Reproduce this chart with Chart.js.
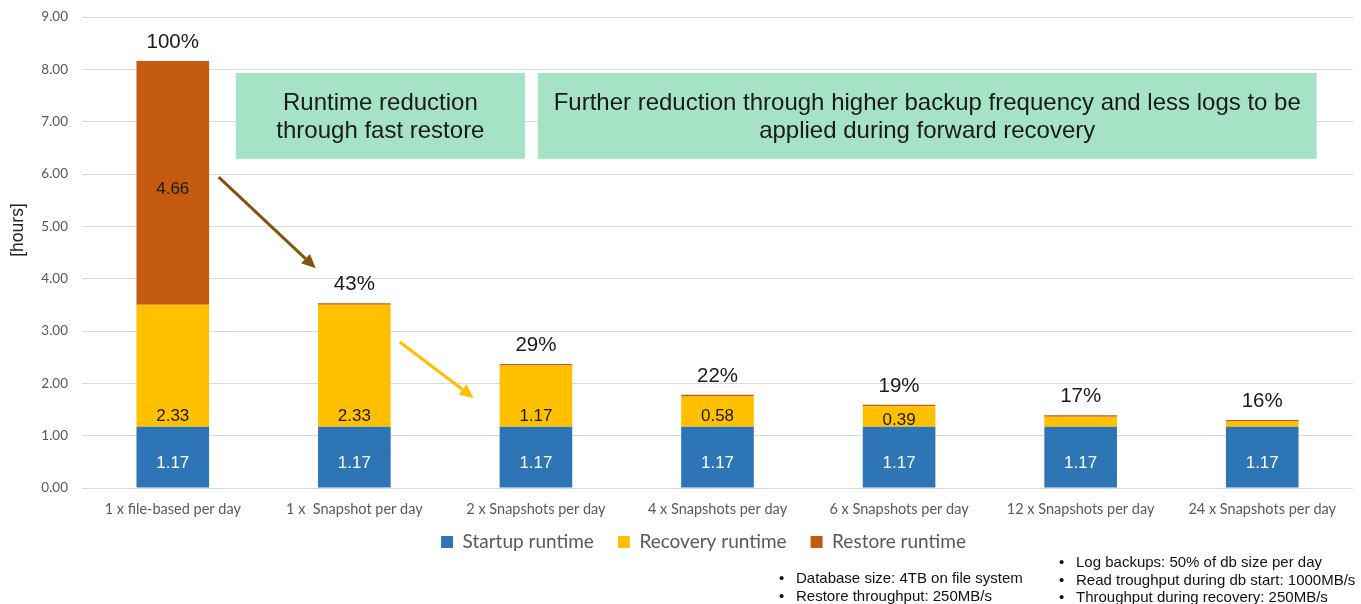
<!DOCTYPE html>
<html>
<head>
<meta charset="utf-8">
<script src="https://cdn.jsdelivr.net/npm/chart.js@4/dist/chart.umd.min.js"></script>
<style>
  html, body { margin: 0; padding: 0; background: #fff; }
  #wrap { position: relative; width: 1361px; height: 604px; overflow: hidden; }
  #c { position: absolute; left: 0; top: 0; }
  .notes { position: absolute; margin: 0; padding: 0; list-style: none;
           font: 15px "Liberation Sans", Arial, sans-serif; color: #111; }
  .notes li { position: relative; padding-left: 17px; white-space: nowrap; }
  .notes li::before { content: "\2022"; position: absolute; left: 0; }
</style>
</head>
<body>
<div id="wrap">
  <canvas id="c" width="1361" height="604"></canvas>
  <ul class="notes" style="left:779px; top:569px; line-height:18.4px;">
    <li>Database size: 4TB on file system</li>
    <li>Restore throughput: 250MB/s</li>
  </ul>
  <ul class="notes" style="left:1059px; top:553px; line-height:17.5px;">
    <li>Log backups: 50% of db size per day</li>
    <li>Read troughput during db start: 1000MB/s</li>
    <li>Throughput during recovery: 250MB/s</li>
  </ul>
</div>
<script>
// Backup strategies compared
const categories = [
  "1 x file-based per day",
  "1 x  Snapshot per day",
  "2 x Snapshots per day",
  "4 x Snapshots per day",
  "6 x Snapshots per day",
  "12 x Snapshots per day",
  "24 x Snapshots per day"
];

// Runtime components in hours
const startupRuntime  = [1.17, 1.17, 1.17, 1.17, 1.17, 1.17, 1.17];
const recoveryRuntime = [2.33, 2.33, 1.17, 0.58, 0.39, 0.19, 0.10];
const restoreRuntime  = [4.66, 0.03, 0.03, 0.03, 0.03, 0.03, 0.03];

// Total runtime relative to the file-based backup
const percentLabels = ["100%", "43%", "29%", "22%", "19%", "17%", "16%"];

// Y axis ticks
const yTicks = [0, 1, 2, 3, 4, 5, 6, 7, 8, 9];

// Callout boxes and arrows, placed in axis units (category index, hours)
const calloutBoxes = [
  { x0: 0.347, x1: 1.94, y0: 7.93, y1: 6.29,
    lines: ["Runtime reduction", "through fast restore"] },
  { x0: 2.01, x1: 6.30, y0: 7.93, y1: 6.29,
    lines: ["Further reduction through higher backup frequency and less logs to be",
            "applied during forward recovery"] }
];
const calloutArrows = [
  { x0: 0.253, y0: 5.94, x1: 0.787, y1: 4.20, color: "#84540f" },
  { x0: 1.25,  y0: 2.79, x1: 1.657, y1: 1.72, color: "#ffc000" }
];

const BLUE = "#2e75b6", YELLOW = "#ffc000", ORANGE = "#c55a11";
const LABEL_FONT = '17px "Liberation Sans", Arial, sans-serif';

const calloutPlugin = {
  id: "callouts",
  beforeDatasetsDraw(chart) {
    const { ctx, scales: { x, y } } = chart;
    ctx.save();
    for (const b of calloutBoxes) {
      const left = x.getPixelForValue(b.x0), right = x.getPixelForValue(b.x1);
      const top = y.getPixelForValue(b.y0), bottom = y.getPixelForValue(b.y1);
      ctx.fillStyle = "#a6e3c6";
      ctx.fillRect(left, top, right - left, bottom - top);
      ctx.fillStyle = "#1a1a1a";
      ctx.font = '24px "Liberation Sans", Arial, sans-serif';
      ctx.textAlign = "center";
      ctx.textBaseline = "middle";
      const cx = (left + right) / 2, cy = (top + bottom) / 2 + 1;
      const lh = 28;
      b.lines.forEach((t, i) => {
        ctx.fillText(t, cx, cy + (i - (b.lines.length - 1) / 2) * lh);
      });
    }
    for (const a of calloutArrows) {
      const sx = x.getPixelForValue(a.x0), sy = y.getPixelForValue(a.y0);
      const ex = x.getPixelForValue(a.x1), ey = y.getPixelForValue(a.y1);
      const ang = Math.atan2(ey - sy, ex - sx);
      const head = 14, half = 6.5;
      const bx = ex - head * Math.cos(ang), by = ey - head * Math.sin(ang);
      ctx.strokeStyle = a.color;
      ctx.fillStyle = a.color;
      ctx.lineWidth = 3;
      ctx.beginPath();
      ctx.moveTo(sx, sy);
      ctx.lineTo(bx, by);
      ctx.stroke();
      ctx.beginPath();
      ctx.moveTo(ex, ey);
      ctx.lineTo(bx + half * Math.sin(ang), by - half * Math.cos(ang));
      ctx.lineTo(bx - half * Math.sin(ang), by + half * Math.cos(ang));
      ctx.closePath();
      ctx.fill();
    }
    ctx.restore();
  }
};

const labelPlugin = {
  id: "barLabels",
  afterDatasetsDraw(chart) {
    const { ctx } = chart;
    ctx.save();
    ctx.textAlign = "center";
    ctx.textBaseline = "middle";
    ctx.font = LABEL_FONT;
    chart.data.datasets.forEach((ds, di) => {
      const meta = chart.getDatasetMeta(di);
      meta.data.forEach((bar, i) => {
        const v = ds.data[i];
        if (v < 0.3) return;
        const h = bar.base - bar.y;
        let ly;
        if (di === 0) ly = (bar.y + bar.base) / 2 + 6;
        else if (di === 1) ly = h < 30 ? (bar.y + bar.base) / 2 + 4 : bar.base - 10;
        else ly = (bar.y + bar.base) / 2 + 6;
        ctx.fillStyle = di === 0 ? "#ffffff" : "#1a1a1a";
        ctx.fillText(v.toFixed(2), bar.x, ly);
      });
    });
    // percentage above each stack
    const topMeta = chart.getDatasetMeta(chart.data.datasets.length - 1);
    ctx.font = '20.5px "Liberation Sans", Arial, sans-serif';
    ctx.fillStyle = "#1a1a1a";
    topMeta.data.forEach((bar, i) => {
      ctx.fillText(percentLabels[i], bar.x, bar.y - 18.5);
    });
    ctx.restore();
  }
};

// Y axis title, drawn beside the tick labels
const axisTitlePlugin = {
  id: "axisTitle",
  afterDraw(chart) {
    const { ctx, chartArea } = chart;
    ctx.save();
    ctx.translate(18, chartArea.top + 213);
    ctx.rotate(-Math.PI / 2);
    ctx.textAlign = "center";
    ctx.textBaseline = "middle";
    ctx.fillStyle = "#222";
    ctx.font = '17.5px "Liberation Sans", Arial, sans-serif';
    ctx.fillText("[hours]", 0, 0);
    ctx.restore();
  }
};

// Legend sits a little right of the canvas centre and tucked under the tick labels
const legendOffsetPlugin = {
  id: "legendOffset",
  beforeDraw(chart) {
    const lg = chart.legend;
    if (lg && !lg.$offsetDone) {
      lg.left += 27;
      lg.right += 27;
      lg.top -= 13.5;
      lg.bottom -= 13.5;
      lg.$offsetDone = true;
    }
  }
};

new Chart(document.getElementById("c"), {
  type: "bar",
  data: {
    labels: categories,
    datasets: [
      { label: "Startup runtime",  data: startupRuntime,  backgroundColor: BLUE },
      { label: "Recovery runtime", data: recoveryRuntime, backgroundColor: YELLOW },
      { label: "Restore runtime",  data: restoreRuntime,  backgroundColor: ORANGE }
    ]
  },
  options: {
    responsive: false,
    animation: false,
    devicePixelRatio: 1,
    layout: { padding: { top: 17, right: 8, left: 0, bottom: 29 } },
    datasets: { bar: { barPercentage: 0.4, categoryPercentage: 1.0 } },
    scales: {
      x: {
        stacked: true,
        grid: { display: false },
        border: { display: false },
        ticks: { color: "#595959", font: { family: "Lato", size: 14.5 }, padding: 5, maxRotation: 0, autoSkip: false },
        afterFit(s) { s.height = 34; }
      },
      y: {
        stacked: true,
        min: yTicks[0],
        max: yTicks[yTicks.length - 1],
        afterBuildTicks(s) { s.ticks = yTicks.map(v => ({ value: v })); },
        grid: { color: "#d9d9d9", lineWidth: 1, drawTicks: false },
        border: { display: false },
        ticks: { color: "#595959", font: { family: "Lato", size: 13.5 }, padding: 14,
                 callback: v => Number(v).toFixed(2) },
        afterFit(s) { s.width = 82; s.paddingTop = 0; s.paddingBottom = 0; }
      }
    },
    plugins: {
      legend: {
        position: "bottom",
        labels: { boxWidth: 12, boxHeight: 12, padding: 24, color: "#595959",
                  font: { family: "Lato", size: 19 } }
      },
      tooltip: { enabled: false }
    }
  },
  plugins: [calloutPlugin, labelPlugin, axisTitlePlugin, legendOffsetPlugin]
});
</script>
</body>
</html>
